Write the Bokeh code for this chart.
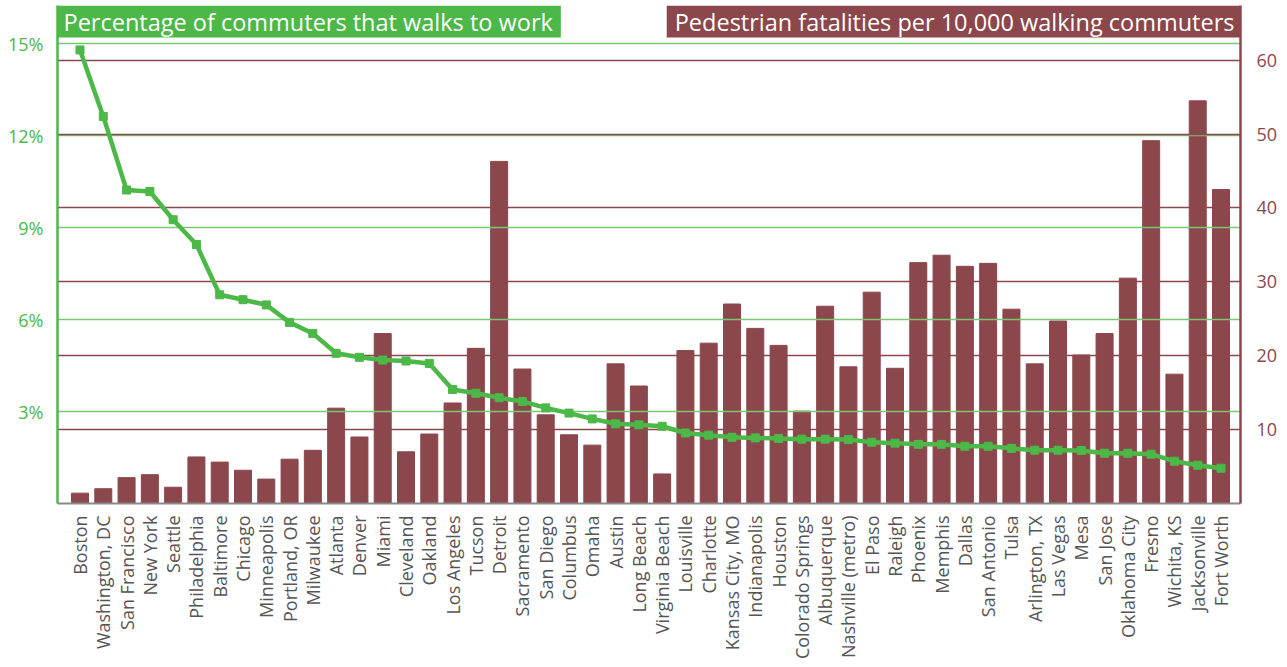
from bokeh.plotting import figure
from bokeh.models import Range1d, LinearAxis, FixedTicker, Grid, Label
from bokeh.embed import file_html
from bokeh.resources import INLINE
from math import pi

cities = ["Boston", "Washington, DC", "San Francisco", "New York", "Seattle", "Philadelphia",
          "Baltimore", "Chicago", "Minneapolis", "Portland, OR", "Milwaukee", "Atlanta", "Denver",
          "Miami", "Cleveland", "Oakland", "Los Angeles", "Tucson", "Detroit", "Sacramento",
          "San Diego", "Columbus", "Omaha", "Austin", "Long Beach", "Virginia Beach", "Louisville",
          "Charlotte", "Kansas City, MO", "Indianapolis", "Houston", "Colorado Springs",
          "Albuquerque", "Nashville (metro)", "El Paso", "Raleigh", "Phoenix", "Memphis", "Dallas",
          "San Antonio", "Tulsa", "Arlington, TX", "Las Vegas", "Mesa", "San Jose",
          "Oklahoma City", "Fresno", "Wichita, KS", "Jacksonville", "Fort Worth"]

walk_pct = [14.80, 12.63, 10.23, 10.18, 9.26, 8.45, 6.81, 6.65, 6.48, 5.91, 5.55, 4.90, 4.77,
            4.68, 4.65, 4.57, 3.72, 3.60, 3.45, 3.33, 3.12, 2.95, 2.76, 2.60, 2.57, 2.52, 2.30,
            2.23, 2.16, 2.14, 2.12, 2.10, 2.10, 2.09, 2.00, 1.97, 1.93, 1.93, 1.87, 1.87, 1.80,
            1.74, 1.74, 1.73, 1.64, 1.64, 1.61, 1.38, 1.25, 1.15]

fatalities = [1.4, 2.0, 3.5, 3.9, 2.2, 6.3, 5.6, 4.5, 3.3, 6.0, 7.2, 12.9, 9.0, 23.0, 7.0, 9.4,
              13.6, 21.0, 46.3, 18.2, 12.0, 9.3, 7.9, 18.9, 15.9, 4.0, 20.7, 21.7, 27.0, 23.7,
              21.4, 12.5, 26.7, 18.5, 28.6, 18.3, 32.6, 33.6, 32.1, 32.5, 26.3, 18.9, 24.7, 20.1,
              23.0, 30.5, 49.1, 17.5, 54.5, 42.5]

pct_ticks = [3, 6, 9, 12, 15]
pct_tick_labels = ["3%", "6%", "9%", "12%", "15%"]
fat_ticks = [10, 20, 30, 40, 50, 60]

title_left = "Percentage of commuters that walks to work"
title_right = "Pedestrian fatalities per 10,000 walking commuters"

GREEN = "#4cb848"
GREEN_GRID = "#79c873"
BROWN = "#8b474b"
GRAY = "#555555"
FONT = "Open Sans"

xs = list(range(len(cities)))
x_start, x_end = -0.966, len(cities) - 1 + 0.837
pct_top = 16.25
fat_top = 67.4

p = figure(width=1282, height=667, output_backend="svg", toolbar_location=None,
           x_range=Range1d(x_start, x_end), y_range=Range1d(0, pct_top),
           min_border_left=57, min_border_right=42, min_border_top=5, min_border_bottom=164,
           y_axis_location=None)
p.outline_line_color = None
p.background_fill_color = "white"
p.extra_y_ranges = {"fat": Range1d(0, fat_top)}

# bars (drawn first)
p.vbar(x=xs, top=fatalities, width=0.73, y_range_name="fat", color=BROWN, level="image")

# grids
p.xgrid.visible = False
p.ygrid.ticker = FixedTicker(ticks=pct_ticks)
p.ygrid.grid_line_color = GREEN_GRID
p.ygrid.grid_line_width = 1.5
g2 = Grid(dimension=1, ticker=FixedTicker(ticks=fat_ticks), y_range_name="fat",
          grid_line_color=BROWN, grid_line_width=1.5)
p.add_layout(g2)

# line with square markers
p.line(xs, walk_pct, color=GREEN, line_width=4.5)
p.scatter(xs, walk_pct, marker="square", size=8, color=GREEN)

# axes
left = LinearAxis(ticker=FixedTicker(ticks=pct_ticks),
                  major_label_overrides={t: l for t, l in zip(pct_ticks, pct_tick_labels)})
left.axis_line_color = GREEN
left.axis_line_width = 2.5
left.major_tick_line_color = None
left.minor_tick_line_color = None
left.major_label_text_color = GREEN
left.major_label_text_font = FONT
left.major_label_text_font_size = "18px"
left.major_label_standoff = 8
p.add_layout(left, "left")

right = LinearAxis(ticker=FixedTicker(ticks=fat_ticks), y_range_name="fat")
right.axis_line_color = BROWN
right.axis_line_width = 2.5
right.major_tick_line_color = None
right.minor_tick_line_color = None
right.major_label_text_color = BROWN
right.major_label_text_font = FONT
right.major_label_text_font_size = "18px"
right.major_label_standoff = 10
p.add_layout(right, "right")

xa = p.xaxis[0]
xa.ticker = FixedTicker(ticks=xs)
xa.major_label_overrides = {i: c for i, c in enumerate(cities)}
xa.major_label_orientation = pi / 2
xa.axis_line_color = "#8a8a8a"
xa.axis_line_width = 2
xa.major_tick_line_color = None
xa.minor_tick_line_color = None
xa.major_label_text_color = GRAY
xa.major_label_text_font = FONT
xa.major_label_text_font_size = "18px"
xa.major_label_standoff = 6

# title boxes
lab1 = Label(x=x_start, y=pct_top, text=title_left, anchor="top_left",
             text_color="white", text_font=FONT, text_font_size="23.5px",
             background_fill_color=GREEN, padding=dict(left=6, right=8, top=0, bottom=0))
lab2 = Label(x=x_end, y=pct_top, text=title_right, anchor="top_right",
             text_color="white", text_font=FONT, text_font_size="23.5px",
             background_fill_color=BROWN, padding=dict(left=8, right=6, top=0, bottom=0))
p.add_layout(lab1)
p.add_layout(lab2)

open("out.html", "w").write(file_html(p, INLINE))
